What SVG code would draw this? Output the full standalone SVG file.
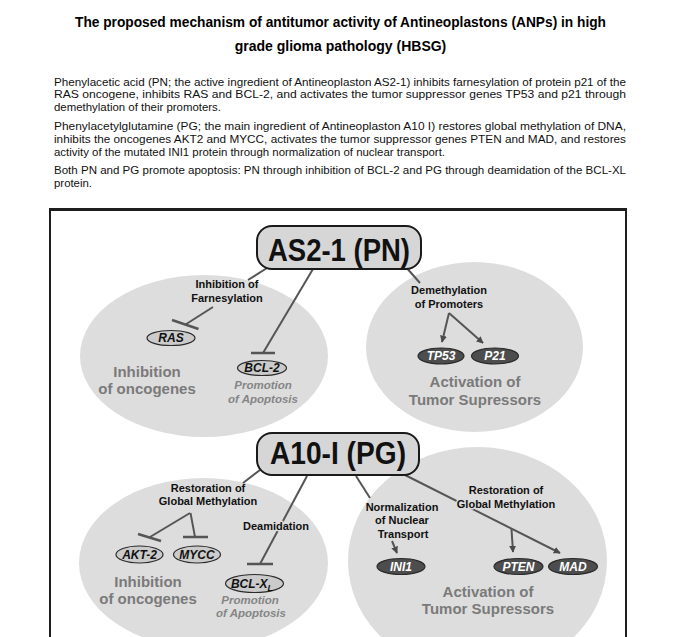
<svg xmlns="http://www.w3.org/2000/svg" width="700" height="637" viewBox="0 0 700 637">
<defs>
<marker id="arr" viewBox="0 0 10 10" refX="9" refY="5" markerWidth="7" markerHeight="7" orient="auto" markerUnits="userSpaceOnUse">
<path d="M0,0 L10,5 L0,10 z" fill="#4a4a4a"/>
</marker>
</defs>
<style>
text{font-family:"Liberation Sans",Arial,sans-serif}
.title{font-size:14px;font-weight:bold;fill:#000;text-anchor:middle}
.para{font-size:11px;fill:#111}
.big{fill:#dddddd}
.box{fill:#d6d6d6;stroke:#1a1a1a;stroke-width:2}
.boxt{font-size:31px;font-weight:bold;fill:#111;text-anchor:middle}
.lab{font-size:11px;font-weight:bold;fill:#111;text-anchor:middle}
.halo{stroke:#dddddd;stroke-width:3px;paint-order:stroke;stroke-linejoin:round}
.cat{font-size:15px;font-weight:bold;fill:#7a7a7a;text-anchor:middle}
.apo{font-size:11.5px;font-weight:bold;font-style:italic;fill:#858585;text-anchor:middle}
.lg{fill:#cbcbcb;stroke:#2a2a2a;stroke-width:1.2}
.dk{fill:#4d4d4d;stroke:#2a2a2a;stroke-width:1.2}
.lgt{font-size:12px;font-weight:bold;font-style:italic;fill:#111;text-anchor:middle}
.dkt{font-size:12px;font-weight:bold;font-style:italic;fill:#fff;text-anchor:middle}
.con{stroke:#555;stroke-width:2;fill:none}
.bar{stroke:#555;stroke-width:2.5;fill:none}
.frame{stroke:#1e1e1e;fill:none}
</style>
<rect width="700" height="637" fill="#fff"/>
<g id="title">
<text class="title" x="340.5" y="27" textLength="531" lengthAdjust="spacingAndGlyphs">The proposed mechanism of antitumor activity of Antineoplastons (ANPs) in high</text>
<text class="title" x="340.5" y="51">grade glioma pathology (HBSG)</text>
</g>
<g id="description">
<text class="para" x="54" y="85.5" textLength="572" lengthAdjust="spacingAndGlyphs">Phenylacetic acid (PN; the active ingredient of Antineoplaston AS2-1) inhibits farnesylation of protein p21 of the</text>
<text class="para" x="54" y="98" textLength="572" lengthAdjust="spacingAndGlyphs">RAS oncogene, inhibits RAS and BCL-2, and activates the tumor suppressor genes TP53 and p21 through</text>
<text class="para" x="54" y="110.5" textLength="167" lengthAdjust="spacingAndGlyphs">demethylation of their promoters.</text>
<text class="para" x="54" y="130" textLength="572" lengthAdjust="spacingAndGlyphs">Phenylacetylglutamine (PG; the main ingredient of Antineoplaston A10 I) restores global methylation of DNA,</text>
<text class="para" x="54" y="142.5" textLength="572" lengthAdjust="spacingAndGlyphs">inhibits the oncogenes AKT2 and MYCC, activates the tumor suppressor genes PTEN and MAD, and restores</text>
<text class="para" x="54" y="155.5" textLength="391" lengthAdjust="spacingAndGlyphs">activity of the mutated INI1 protein through normalization of nuclear transport.</text>
<text class="para" x="54" y="174" textLength="572" lengthAdjust="spacingAndGlyphs">Both PN and PG promote apoptosis: PN through inhibition of BCL-2 and PG through deamidation of the BCL-XL</text>
<text class="para" x="54" y="186.5" textLength="38" lengthAdjust="spacingAndGlyphs">protein.</text>
</g>
<g id="frame">
<line class="frame" x1="49" y1="209.5" x2="627" y2="209.5" stroke-width="3"/>
<line class="frame" x1="50" y1="208" x2="50" y2="637" stroke-width="2"/>
<line class="frame" x1="626" y1="208" x2="626" y2="637" stroke-width="2"/>
</g>
<g id="region-pn-oncogenes"><ellipse class="big" cx="204" cy="356" rx="124" ry="81"/></g>
<g id="region-pn-suppressors"><ellipse class="big" cx="474.5" cy="347" rx="108.5" ry="85"/></g>
<g id="region-pg-oncogenes"><ellipse class="big" cx="203.5" cy="563" rx="124.5" ry="85"/></g>
<g id="region-pg-suppressors"><ellipse class="big" cx="477.5" cy="561" rx="129.5" ry="114"/></g>
<g id="connectors">
<line class="con" x1="267" y1="268" x2="248" y2="280"/>
<line class="con" x1="213" y1="307" x2="185.5" y2="324.5"/>
<line class="bar" x1="172" y1="320" x2="198.5" y2="329"/>
<line class="con" x1="313" y1="269" x2="263" y2="353"/>
<line class="bar" x1="251" y1="353" x2="275" y2="353"/>
<line class="con" x1="405" y1="266" x2="420" y2="283"/>
<line class="con" x1="449" y1="313" x2="442" y2="342" marker-end="url(#arr)"/>
<line class="con" x1="449" y1="313" x2="483" y2="343" marker-end="url(#arr)"/>
<line class="con" x1="260" y1="470" x2="243" y2="483"/>
<line class="con" x1="190" y1="513" x2="150" y2="537"/>
<line class="bar" x1="138" y1="534" x2="161" y2="541"/>
<line class="con" x1="190.5" y1="513" x2="195" y2="537"/>
<line class="bar" x1="183" y1="537" x2="208" y2="537"/>
<line class="con" x1="307" y1="476" x2="260" y2="564"/>
<line class="bar" x1="247" y1="564" x2="273" y2="564"/>
<line class="con" x1="356" y1="476" x2="370" y2="498"/>
<line class="con" x1="392" y1="541" x2="397" y2="553" marker-end="url(#arr)"/>
<line class="con" x1="405" y1="475" x2="560" y2="553" marker-end="url(#arr)"/>
<line class="con" x1="511.5" y1="529" x2="513" y2="552" marker-end="url(#arr)"/>
</g>
<g id="as2-1">
<rect class="box" x="257" y="226" width="164" height="43" rx="15"/>
<text class="boxt" x="339" y="261" textLength="142" lengthAdjust="spacingAndGlyphs">AS2-1 (PN)</text>
</g>
<g id="farnesylation">
<text class="lab" x="227" y="288">Inhibition of</text>
<text class="lab" x="227" y="301.5">Farnesylation</text>
</g>
<g id="ras"><ellipse class="lg" cx="171" cy="338" rx="24" ry="7.5"/><text class="lgt" x="171" y="342.2">RAS</text></g>
<g id="bcl2"><ellipse class="lg" cx="262" cy="368" rx="24.5" ry="7.5"/><text class="lgt" x="262" y="372.2">BCL-2</text></g>
<g id="pn-inhibition-label">
<text class="cat" x="147" y="377">Inhibition</text>
<text class="cat" x="147" y="393.5">of oncogenes</text>
</g>
<g id="pn-apoptosis-label">
<text class="apo" x="263" y="389">Promotion</text>
<text class="apo" x="263" y="403">of Apoptosis</text>
</g>
<g id="demethylation">
<text class="lab" x="449" y="294">Demethylation</text>
<text class="lab" x="449" y="308">of Promoters</text>
</g>
<g id="tp53"><ellipse class="dk" cx="441" cy="356" rx="23" ry="8"/><text class="dkt" x="441" y="360.2">TP53</text></g>
<g id="p21"><ellipse class="dk" cx="495" cy="356" rx="23.5" ry="8"/><text class="dkt" x="495" y="360.2">P21</text></g>
<g id="pn-activation-label">
<text class="cat" x="475" y="387">Activation of</text>
<text class="cat" x="475" y="404.5">Tumor Supressors</text>
</g>
<g id="a10-i">
<rect class="box" x="257" y="433" width="162" height="42" rx="15"/>
<text class="boxt" x="338" y="464" textLength="136" lengthAdjust="spacingAndGlyphs">A10-I (PG)</text>
</g>
<g id="restoration-left">
<text class="lab" x="208" y="492">Restoration of</text>
<text class="lab" x="208" y="505">Global Methylation</text>
</g>
<g id="akt2"><ellipse class="lg" cx="139.5" cy="554.5" rx="23.5" ry="8.5"/><text class="lgt" x="139.5" y="558.7">AKT-2</text></g>
<g id="mycc"><ellipse class="lg" cx="197" cy="554.5" rx="23.5" ry="8.5"/><text class="lgt" x="197" y="558.7">MYCC</text></g>
<g id="deamidation"><text class="lab halo" x="276" y="530">Deamidation</text></g>
<g id="bcl-xl"><ellipse class="lg" cx="254.5" cy="583.5" rx="29" ry="9"/><text class="lgt" x="252" y="587.5">BCL-X<tspan font-size="9" dy="3">L</tspan></text></g>
<g id="pg-inhibition-label">
<text class="cat" x="148" y="587">Inhibition</text>
<text class="cat" x="148" y="603.5">of oncogenes</text>
</g>
<g id="pg-apoptosis-label">
<text class="apo" x="250" y="604">Promotion</text>
<text class="apo" x="251" y="617">of Apoptosis</text>
</g>
<g id="normalization">
<text class="lab" x="402" y="511">Normalization</text>
<text class="lab" x="402" y="524">of Nuclear</text>
<text class="lab" x="403" y="537.5">Transport</text>
</g>
<g id="ini1"><ellipse class="dk" cx="401" cy="566.5" rx="24" ry="8"/><text class="dkt" x="401" y="570.7">INI1</text></g>
<g id="restoration-right">
<text class="lab halo" x="506" y="494">Restoration of</text>
<text class="lab halo" x="506" y="507.5">Global Methylation</text>
</g>
<g id="pten"><ellipse class="dk" cx="518.5" cy="566.5" rx="24.5" ry="8"/><text class="dkt" x="518.5" y="570.7">PTEN</text></g>
<g id="mad"><ellipse class="dk" cx="573" cy="566.5" rx="24.5" ry="8"/><text class="dkt" x="573" y="570.7">MAD</text></g>
<g id="pg-activation-label">
<text class="cat" x="488" y="597">Activation of</text>
<text class="cat" x="488" y="614">Tumor Supressors</text>
</g>
</svg>
